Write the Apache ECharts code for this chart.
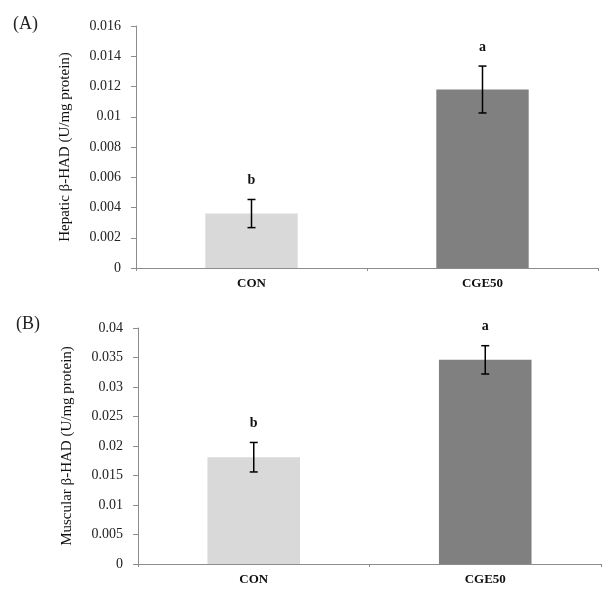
<!DOCTYPE html>
<html><head><meta charset="utf-8">
<script src="https://cdn.jsdelivr.net/npm/echarts@6/dist/echarts.min.js"></script>
<style>html,body{margin:0;padding:0;background:#fff}#c{width:615px;height:592px}</style>
</head><body><div id="c"></div>
<script>
const categories = ['CON', 'CGE50'];
const hepaticMeans = [0.0036, 0.0118];
const hepaticErr = [0.00093, 0.00155];
const hepaticLetters = ['b', 'a'];
const muscularMeans = [0.0181, 0.0346];
const muscularErr = [0.0025, 0.0024];
const muscularLetters = ['b', 'a'];
const hepaticTicks = ['0', '0.002', '0.004', '0.006', '0.008', '0.01', '0.012', '0.014', '0.016'];
const muscularTicks = ['0', '0.005', '0.01', '0.015', '0.02', '0.025', '0.03', '0.035', '0.04'];
const barColors = ['#d9d9d9', '#808080'];

const serif = '"Liberation Serif", "DejaVu Serif", serif';
const axisColor = '#8c8c8c';

function yAxis(gridIndex, max, interval, ticks, name) {
  return {
    type: 'value', gridIndex, min: 0, max, interval,
    name, nameLocation: 'middle', nameRotate: 90, nameGap: 63,
    nameTextStyle: { fontFamily: serif, fontSize: 15, color: '#111' },
    axisLine: { show: true, lineStyle: { color: axisColor } },
    axisTick: { show: true, length: 5, lineStyle: { color: axisColor } },
    splitLine: { show: false },
    axisLabel: { fontFamily: serif, fontSize: 14, color: '#222', margin: 15,
      formatter: v => ticks[Math.round(v / interval)] }
  };
}
function xAxis(gridIndex) {
  return {
    type: 'category', gridIndex, data: categories,
    axisLine: { lineStyle: { color: axisColor } },
    axisTick: { show: true, length: 3, lineStyle: { color: axisColor } },
    axisLabel: { fontFamily: serif, fontSize: 13, fontWeight: 'bold', color: '#111', margin: 9 }
  };
}
function errSeries(idx, means, errs, letters) {
  return {
    type: 'custom', xAxisIndex: idx, yAxisIndex: idx, z: 5,
    data: means.map((m, i) => [i, m, errs[i]]),
    renderItem: (params, api) => {
      const x = api.value(0), m = api.value(1), e = api.value(2);
      const top = api.coord([x, m + e]);
      const bot = api.coord([x, m - e]);
      const cw = 4;
      return {
        type: 'group', children: [
          { type: 'line', shape: { x1: top[0], y1: top[1], x2: bot[0], y2: bot[1] }, style: { stroke: '#000', lineWidth: 1.5 } },
          { type: 'line', shape: { x1: top[0] - cw, y1: top[1], x2: top[0] + cw, y2: top[1] }, style: { stroke: '#000', lineWidth: 1.5 } },
          { type: 'line', shape: { x1: bot[0] - cw, y1: bot[1], x2: bot[0] + cw, y2: bot[1] }, style: { stroke: '#000', lineWidth: 1.5 } },
          { type: 'text', x: top[0], y: top[1] - 19, style: { text: letters[params.dataIndex], fontFamily: serif, fontSize: 14, fontWeight: 'bold', fill: '#111', align: 'center', verticalAlign: 'middle' } }
        ]
      };
    }
  };
}
function barSeries(idx, means) {
  return {
    type: 'bar', xAxisIndex: idx, yAxisIndex: idx, barWidth: '40%',
    data: means.map((v, i) => ({ value: v, itemStyle: { color: barColors[i] } }))
  };
}

const chart = echarts.init(document.getElementById('c'));
chart.setOption({
  animation: false,
  backgroundColor: '#fff',
  grid: [
    { left: 136, top: 26, right: 17, bottom: 324, containLabel: false, outerBoundsMode: 'none' },
    { left: 138, top: 328, right: 14, bottom: 28, containLabel: false, outerBoundsMode: 'none' }
  ],
  xAxis: [xAxis(0), xAxis(1)],
  yAxis: [
    yAxis(0, 0.016, 0.002, hepaticTicks, 'Hepatic β-HAD (U/mg protein)'),
    yAxis(1, 0.04, 0.005, muscularTicks, 'Muscular β-HAD (U/mg protein)')
  ],
  graphic: [
    { type: 'text', left: 13, top: 15, style: { text: '(A)', fontFamily: serif, fontSize: 18, fill: '#222' } },
    { type: 'text', left: 16, top: 315, style: { text: '(B)', fontFamily: serif, fontSize: 18, fill: '#222' } }
  ],
  series: [
    barSeries(0, hepaticMeans),
    errSeries(0, hepaticMeans, hepaticErr, hepaticLetters),
    barSeries(1, muscularMeans),
    errSeries(1, muscularMeans, muscularErr, muscularLetters)
  ]
});
</script></body></html>
